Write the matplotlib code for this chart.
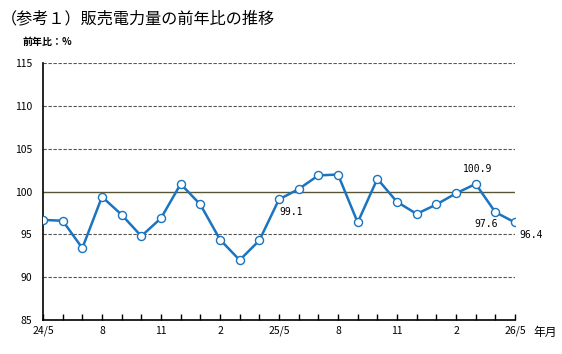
import matplotlib
matplotlib.use("Agg")
import matplotlib.pyplot as plt

plt.rcParams['font.family'] = ['Noto Sans CJK JP', 'DejaVu Sans']

months = ["24/5", "6", "7", "8", "9", "10", "11", "12", "1", "2", "3", "4",
          "25/5", "6", "7", "8", "9", "10", "11", "12", "1", "2", "3", "4", "26/5"]
values = [96.7, 96.6, 93.4, 99.4, 97.3, 94.8, 96.9, 100.9, 98.5, 94.4, 92.0, 94.3,
          99.1, 100.3, 101.9, 102.0, 96.4, 101.5, 98.8, 97.4, 98.5, 99.8, 100.9, 97.6, 96.4]
shown_labels = {0: "24/5", 3: "8", 6: "11", 9: "2", 12: "25/5", 15: "8", 18: "11", 21: "2", 24: "26/5"}
annotated = {12: (8.6, -9.2), 22: (1.5, 10.5), 23: (-6.5, -8.6), 24: (11.5, -9.2)}

fig = plt.figure(figsize=(5.62, 3.54), dpi=100)
ax = fig.add_axes([0.0765, 0.096, 0.8399, 0.7252])

x = list(range(len(values)))
for yv in [90, 95, 105, 110, 115]:
    ax.axhline(yv, color='#555555', lw=0.8, ls=(0, (3, 1.5)), zorder=1)
ax.axhline(100, color='#5a5535', lw=1.0, zorder=1)

ax.plot(x, values, color='#1a74c0', lw=1.8, marker='o', ms=5.8,
        mfc='white', mec='#1a74c0', mew=1.0, zorder=3)

for i, (dx, dy) in annotated.items():
    ax.annotate(f"{values[i]:.1f}", (i, values[i]), xytext=(dx, dy),
                textcoords='offset points', ha='center', va='center',
                fontsize=7, family='DejaVu Sans Mono')

ax.set_xlim(0, 24)
ax.set_ylim(85, 115)
ax.set_yticks([85, 90, 95, 100, 105, 110, 115])
ax.set_xticks(x)
ax.set_xticklabels([shown_labels.get(i, "") for i in x])
ax.tick_params(axis='x', direction='in', length=4, width=1, pad=4, labelsize=7.5)
ax.tick_params(axis='y', length=0, pad=8, labelsize=7.5)
for s in ['top', 'right']:
    ax.spines[s].set_visible(False)
for s in ['left', 'bottom']:
    ax.spines[s].set_color('black')
    ax.spines[s].set_linewidth(1.2)

fig.text(0.002, 0.948, "（参考１）販売電力量の前年比の推移", fontsize=11.6, va='center', ha='left')
fig.text(0.040, 0.880, "前年比：%", fontsize=7.2, va='center', ha='left', fontweight='bold')
fig.text(0.950, 0.060, "年月", fontsize=8.5, va='center', ha='left')

fig.savefig("out.png", dpi=100)
